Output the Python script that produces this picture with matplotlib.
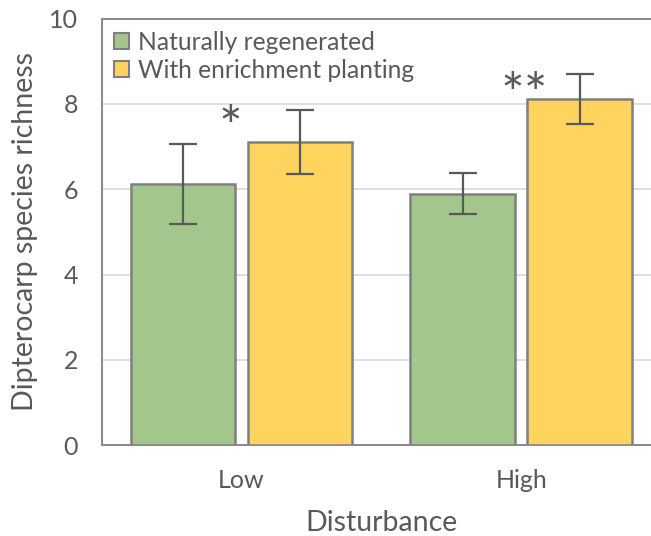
import matplotlib
matplotlib.use("Agg")
import matplotlib.pyplot as plt
import numpy as np
from matplotlib.patches import Patch

plt.rcParams['font.family'] = ['Lato', 'DejaVu Sans']

categories = ["Low", "High"]
series_names = ["Naturally regenerated", "With enrichment planting"]
natural = [6.12, 5.89]
natural_err = [0.93, 0.48]
enrich = [7.11, 8.11]
enrich_err = [0.75, 0.58]
signif = ["*", "**"]
yticks = [0, 2, 4, 6, 8, 10]

TXT = "#595959"
GREEN = "#A3C68C"
YELLOW = "#FFD45E"
EDGE = "#7F7F7F"

fig = plt.figure(figsize=(6.51, 5.36), dpi=100)
ax = fig.add_axes([101.5/651, (536-445.3)/536, 559.5/651, (445.3-18.6)/536])

x = np.arange(len(categories))
w = 0.374
off = 0.209
ax.bar(x - off, natural, w, color=GREEN, edgecolor=EDGE, linewidth=1.8, zorder=3)
ax.bar(x + off, enrich, w, color=YELLOW, edgecolor=EDGE, linewidth=1.8, zorder=3)
ax.errorbar(x - off, natural, yerr=natural_err, fmt="none", ecolor=TXT, elinewidth=1.6,
            capsize=10, capthick=1.6, zorder=4)
ax.errorbar(x + off, enrich, yerr=enrich_err, fmt="none", ecolor=TXT, elinewidth=1.6,
            capsize=10, capthick=1.6, zorder=4)

# significance stars
ax.text(x[0] - 0.04, 7.38, signif[0], ha="center", va="center", fontsize=40, color=TXT)
ax.text(x[1] + 0.01, 8.15, signif[1], ha="center", va="center", fontsize=40, color=TXT)

ax.set_xlim(-0.5, 1.5)
ax.set_ylim(0, 10)
ax.set_yticks(yticks)
ax.set_xticks(x)
ax.set_xticklabels(categories)
ax.tick_params(axis="both", length=0, labelsize=18, colors=TXT)
ax.tick_params(axis="y", pad=17)
ax.tick_params(axis="x", pad=17)
ax.grid(axis="y", color="#D9D9D9", linewidth=1.2, zorder=0)
ax.set_axisbelow(True)
for s in ax.spines.values():
    s.set_color("#8C8C8C")
    s.set_linewidth(1.5)

ax.set_ylabel("Dipterocarp species richness", fontsize=20.5, color=TXT, labelpad=8)
ax.set_xlabel("Disturbance", fontsize=20.5, color=TXT, labelpad=13)

handles = [Patch(facecolor=GREEN, edgecolor=EDGE, linewidth=1.5),
           Patch(facecolor=YELLOW, edgecolor=EDGE, linewidth=1.5)]
leg = ax.legend(handles, series_names, loc="upper left", frameon=False, fontsize=17.7,
                handlelength=0.62, handleheight=0.62, handletextpad=0.35,
                labelspacing=0.2, borderaxespad=0.1, bbox_to_anchor=(0.0, 1.0))
for t in leg.get_texts():
    t.set_color(TXT)

fig.savefig("out.png", dpi=100)
